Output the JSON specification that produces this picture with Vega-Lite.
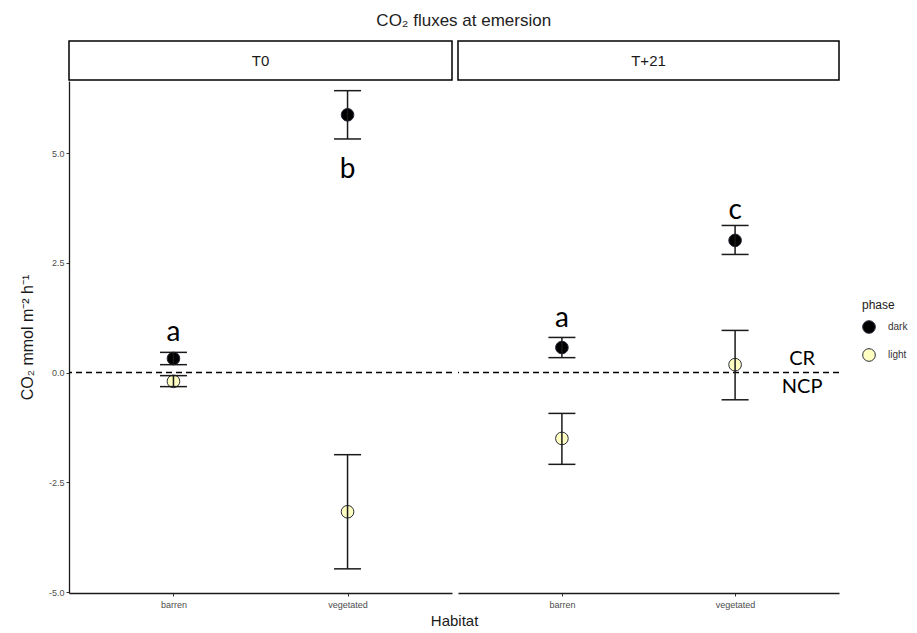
{
  "$schema": "https://vega.github.io/schema/vega-lite/v6.json",
  "background": "white",
  "padding": {"left": 19, "top": 12, "right": 5, "bottom": 5},
  "title": {"text": "CO₂  fluxes at emersion", "font": "Liberation Sans", "fontSize": 17, "fontWeight": "normal", "color": "#222222", "anchor": "middle", "offset": 10},
  "data": {"values": [
    {"kind": "strip", "panel": "T0"},
    {"kind": "strip", "panel": "T+21"},
    {"kind": "ref", "panel": "T0", "yv": 0},
    {"kind": "ref", "panel": "T+21", "yv": 0},
    {"kind": "flux", "panel": "T0", "Habitat": "barren", "phase": "dark", "mean": 0.32, "lo": 0.18, "hi": 0.46},
    {"kind": "flux", "panel": "T0", "Habitat": "barren", "phase": "light", "mean": -0.2, "lo": -0.32, "hi": -0.07},
    {"kind": "flux", "panel": "T0", "Habitat": "vegetated", "phase": "dark", "mean": 5.87, "lo": 5.32, "hi": 6.42},
    {"kind": "flux", "panel": "T0", "Habitat": "vegetated", "phase": "light", "mean": -3.17, "lo": -4.47, "hi": -1.87},
    {"kind": "flux", "panel": "T+21", "Habitat": "barren", "phase": "dark", "mean": 0.57, "lo": 0.34, "hi": 0.8},
    {"kind": "flux", "panel": "T+21", "Habitat": "barren", "phase": "light", "mean": -1.5, "lo": -2.09, "hi": -0.93},
    {"kind": "flux", "panel": "T+21", "Habitat": "vegetated", "phase": "dark", "mean": 3.01, "lo": 2.69, "hi": 3.35},
    {"kind": "flux", "panel": "T+21", "Habitat": "vegetated", "phase": "light", "mean": 0.18, "lo": -0.62, "hi": 0.96},
    {"kind": "letter", "panel": "T0", "Habitat": "barren", "label": "a", "yv": 0.9},
    {"kind": "letter", "panel": "T0", "Habitat": "vegetated", "label": "b", "yv": 4.62},
    {"kind": "letter", "panel": "T+21", "Habitat": "barren", "label": "a", "yv": 1.21},
    {"kind": "letter", "panel": "T+21", "Habitat": "vegetated", "label": "c", "yv": 3.68},
    {"kind": "zone", "panel": "T+21", "Habitat": "vegetated", "label": "CR", "yv": 0.32},
    {"kind": "zone", "panel": "T+21", "Habitat": "vegetated", "label": "NCP", "yv": -0.32}
  ]},
  "config": {
    "view": {"stroke": null},
    "font": "Liberation Sans",
    "axis": {"grid": false, "domainColor": "#1a1a1a", "domainWidth": 1.3, "tickColor": "#333333", "tickSize": 3, "labelColor": "#4d4d4d", "labelFontSize": 9, "labelFont": "Liberation Sans", "titleFont": "Liberation Sans", "titleFontWeight": "normal", "titleColor": "#1a1a1a", "titleFontSize": 15}
  },
  "vconcat": [
    {
      "title": {"text": "Habitat", "orient": "bottom", "anchor": "middle", "font": "Liberation Sans", "fontSize": 15, "fontWeight": "normal", "color": "#1a1a1a", "offset": 5, "dx": 25},
      "spacing": 4,
      "hconcat": [
        {
          "spacing": 0,
          "vconcat": [
            {
              "width": 383, "height": 39,
              "transform": [{"filter": "datum.kind === 'strip' && datum.panel === 'T0'"}],
              "view": {"stroke": "black", "strokeWidth": 1.5, "fill": "white"},
              "mark": {"type": "text", "fontSize": 15, "color": "#1a1a1a", "font": "Liberation Sans"},
              "encoding": {"text": {"field": "panel"}}
            },
            {
              "width": 383, "height": 512,
              "layer": [
                {
                  "transform": [{"filter": "datum.kind === 'ref' && datum.panel === 'T0'"}],
                  "mark": {"type": "rule", "strokeDash": [6, 4], "strokeWidth": 1.5, "color": "black"},
                  "encoding": {"y": {"field": "yv", "type": "quantitative", "scale": {"domain": [-5.02, 6.64], "nice": false, "zero": false}}}
                },
                {
                  "transform": [{"filter": "datum.kind === 'flux' && datum.panel === 'T0'"}],
                  "mark": {"type": "circle", "size": 160, "stroke": "#2a2a3a", "strokeWidth": 1, "opacity": 1},
                  "encoding": {
                    "x": {"field": "Habitat", "type": "nominal", "scale": {"type": "point", "padding": 0.6, "domain": ["barren", "vegetated"]}, "axis": {"title": null, "labelAngle": 0, "labelPadding": 4}},
                    "y": {"field": "mean", "type": "quantitative", "scale": {"domain": [-5.02, 6.64], "nice": false, "zero": false}, "axis": {"title": "CO₂  mmol m⁻² h⁻¹", "titleFontSize": 16, "values": [-5, -2.5, 0, 2.5, 5], "labelExpr": "replace(format(datum.value, '.1f'), '−', '-')", "labelPadding": 2, "titlePadding": 13}},
                    "fill": {"field": "phase", "type": "nominal", "scale": {"domain": ["dark", "light"], "range": ["#000000", "#FFFFC2"]}, "legend": {"title": "phase", "orient": "none", "legendX": 793, "legendY": 259, "titleFontSize": 12, "titleFontWeight": "normal", "titleColor": "#1a1a1a", "labelFontSize": 10, "labelColor": "#333333", "symbolSize": 160, "symbolStrokeColor": "#2a2a3a", "symbolStrokeWidth": 1, "labelOffset": 12, "rowPadding": 10, "titlePadding": 8}}
                  }
                },
                {
                  "transform": [{"filter": "datum.kind === 'flux' && datum.panel === 'T0'"}],
                  "mark": {"type": "rule", "strokeWidth": 1.5, "color": "#1a1a1a"},
                  "encoding": {
                    "x": {"field": "Habitat", "type": "nominal"},
                    "y": {"field": "lo", "type": "quantitative"},
                    "y2": {"field": "hi"}
                  }
                },
                {
                  "transform": [{"filter": "datum.kind === 'flux' && datum.panel === 'T0'"}],
                  "mark": {"type": "tick", "size": 27, "thickness": 1.5, "color": "#1a1a1a", "opacity": 1},
                  "encoding": {
                    "x": {"field": "Habitat", "type": "nominal"},
                    "y": {"field": "lo", "type": "quantitative"}
                  }
                },
                {
                  "transform": [{"filter": "datum.kind === 'flux' && datum.panel === 'T0'"}],
                  "mark": {"type": "tick", "size": 27, "thickness": 1.5, "color": "#1a1a1a", "opacity": 1},
                  "encoding": {
                    "x": {"field": "Habitat", "type": "nominal"},
                    "y": {"field": "hi", "type": "quantitative"}
                  }
                },
                {
                  "transform": [{"filter": "datum.kind === 'letter' && datum.panel === 'T0'"}],
                  "mark": {"type": "text", "font": "Lato", "fontSize": 28, "color": "black"},
                  "encoding": {
                    "x": {"field": "Habitat", "type": "nominal"},
                    "y": {"field": "yv", "type": "quantitative"},
                    "text": {"field": "label"}
                  }
                }
              ]
            }
          ]
        },
        {
          "spacing": 0,
          "vconcat": [
            {
              "width": 381, "height": 39,
              "transform": [{"filter": "datum.kind === 'strip' && datum.panel === 'T+21'"}],
              "view": {"stroke": "black", "strokeWidth": 1.5, "fill": "white"},
              "mark": {"type": "text", "fontSize": 15, "color": "#1a1a1a", "font": "Liberation Sans"},
              "encoding": {"text": {"field": "panel"}}
            },
            {
              "width": 381, "height": 512,
              "layer": [
                {
                  "transform": [{"filter": "datum.kind === 'ref' && datum.panel === 'T+21'"}],
                  "mark": {"type": "rule", "strokeDash": [6, 4], "strokeWidth": 1.5, "color": "black"},
                  "encoding": {"y": {"field": "yv", "type": "quantitative", "scale": {"domain": [-5.02, 6.64], "nice": false, "zero": false}, "axis": null}}
                },
                {
                  "transform": [{"filter": "datum.kind === 'flux' && datum.panel === 'T+21'"}],
                  "mark": {"type": "circle", "size": 160, "stroke": "#2a2a3a", "strokeWidth": 1, "opacity": 1},
                  "encoding": {
                    "x": {"field": "Habitat", "type": "nominal", "scale": {"type": "point", "padding": 0.6, "domain": ["barren", "vegetated"]}, "axis": {"title": null, "labelAngle": 0, "labelPadding": 4}},
                    "y": {"field": "mean", "type": "quantitative", "scale": {"domain": [-5.02, 6.64], "nice": false, "zero": false}, "axis": null},
                    "fill": {"field": "phase", "type": "nominal", "scale": {"domain": ["dark", "light"], "range": ["#000000", "#FFFFC2"]}, "legend": null}
                  }
                },
                {
                  "transform": [{"filter": "datum.kind === 'flux' && datum.panel === 'T+21'"}],
                  "mark": {"type": "rule", "strokeWidth": 1.5, "color": "#1a1a1a"},
                  "encoding": {
                    "x": {"field": "Habitat", "type": "nominal"},
                    "y": {"field": "lo", "type": "quantitative", "axis": null},
                    "y2": {"field": "hi"}
                  }
                },
                {
                  "transform": [{"filter": "datum.kind === 'flux' && datum.panel === 'T+21'"}],
                  "mark": {"type": "tick", "size": 27, "thickness": 1.5, "color": "#1a1a1a", "opacity": 1},
                  "encoding": {
                    "x": {"field": "Habitat", "type": "nominal"},
                    "y": {"field": "lo", "type": "quantitative", "axis": null}
                  }
                },
                {
                  "transform": [{"filter": "datum.kind === 'flux' && datum.panel === 'T+21'"}],
                  "mark": {"type": "tick", "size": 27, "thickness": 1.5, "color": "#1a1a1a", "opacity": 1},
                  "encoding": {
                    "x": {"field": "Habitat", "type": "nominal"},
                    "y": {"field": "hi", "type": "quantitative", "axis": null}
                  }
                },
                {
                  "transform": [{"filter": "datum.kind === 'letter' && datum.panel === 'T+21'"}],
                  "mark": {"type": "text", "font": "Lato", "fontSize": 28, "color": "black"},
                  "encoding": {
                    "x": {"field": "Habitat", "type": "nominal"},
                    "y": {"field": "yv", "type": "quantitative", "axis": null},
                    "text": {"field": "label"}
                  }
                },
                {
                  "transform": [{"filter": "datum.kind === 'zone' && datum.panel === 'T+21'"}],
                  "mark": {"type": "text", "font": "Lato", "fontSize": 20, "color": "black", "dx": 67},
                  "encoding": {
                    "x": {"field": "Habitat", "type": "nominal"},
                    "y": {"field": "yv", "type": "quantitative", "axis": null},
                    "text": {"field": "label"}
                  }
                }
              ]
            }
          ]
        }
      ]
    }
  ]
}
